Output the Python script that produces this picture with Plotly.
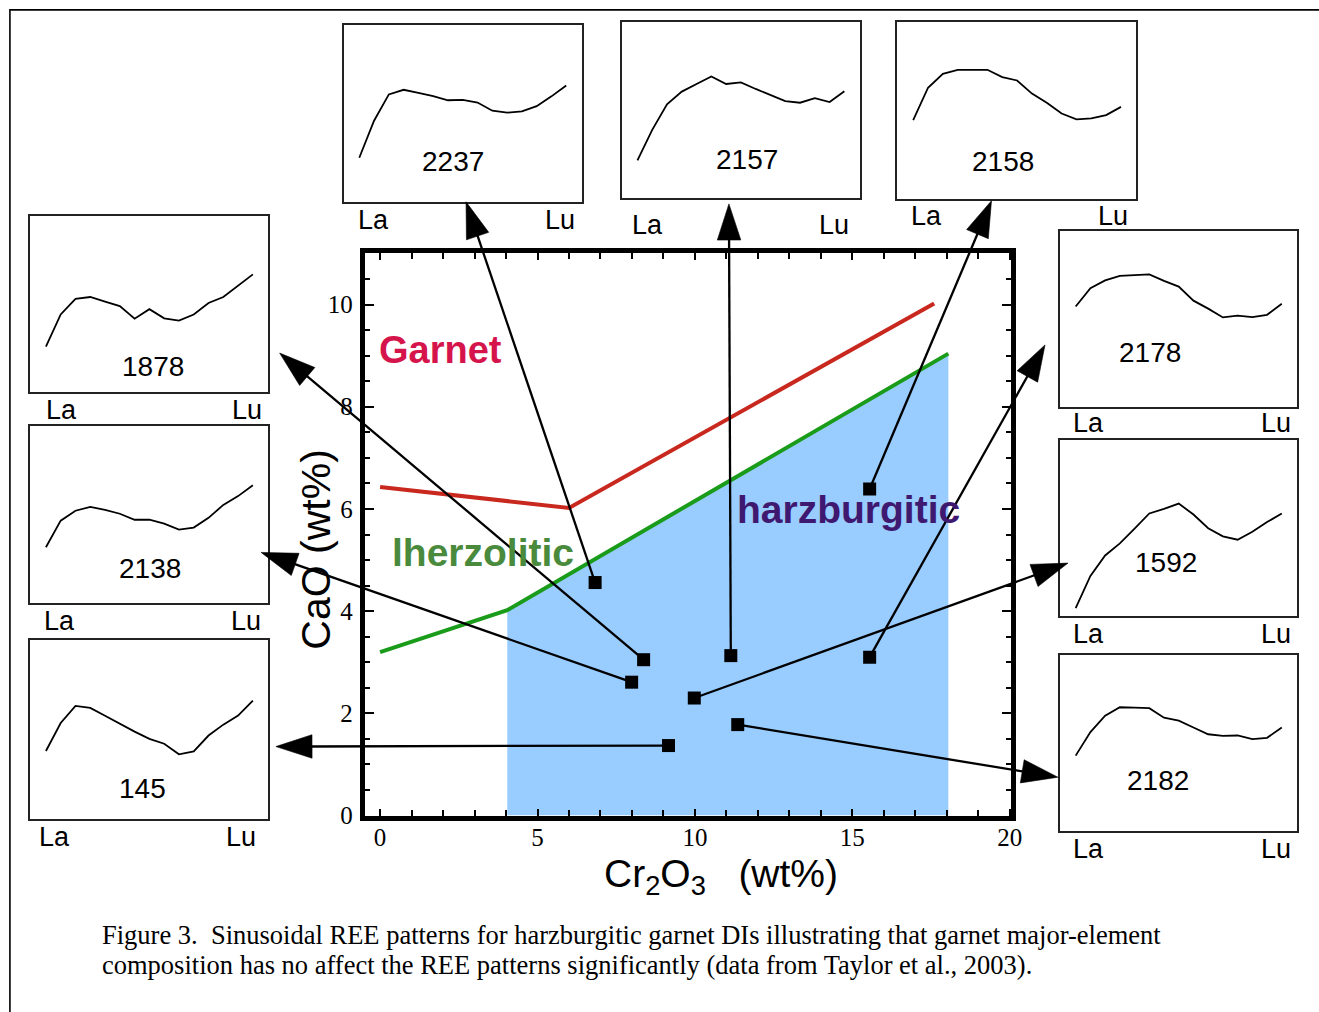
import plotly.graph_objects as go

W, H = 1319, 1012  # reference page size in pixels (positions below are page pixels)

# ---------------- data: main Cr2O3 vs CaO diagram ----------------
SAMPLES = ["2237", "1878", "2138", "2157", "1592", "145", "2182", "2158", "2178"]
CR2O3 = [6.83, 8.37, 7.99, 11.14, 9.98, 9.16, 11.36, 15.55, 15.55]
CAO = [4.56, 3.05, 2.61, 3.13, 2.30, 1.37, 1.78, 6.39, 3.10]

GARNET_LINE_X = [0.0, 6.0, 17.6]
GARNET_LINE_Y = [6.43, 6.02, 10.02]
LHERZ_LINE_X = [0.0, 4.04, 18.05]
LHERZ_LINE_Y = [3.20, 4.02, 9.04]
HARZ_FIELD_X = [4.04, 4.04, 18.05, 18.05]
HARZ_FIELD_Y = [0.0, 4.02, 9.04, 0.0]

X_TICKS = [0, 5, 10, 15, 20]
Y_TICKS = [0, 2, 4, 6, 8, 10]

# ---------------- data: REE patterns (relative chondrite-normalised level) ----
REE = ["La", "Ce", "Pr", "Nd", "Pm", "Sm", "Eu", "Gd", "Tb", "Dy", "Ho", "Er", "Tm", "Yb", "Lu"]
REE_1878 = [26.0, 44.2, 53.0, 54.1, 51.5, 48.9, 41.8, 47.2, 42.0, 40.7, 44.2, 50.7, 54.1, 60.4, 66.9]
REE_2138 = [31.3, 46.4, 52.0, 54.2, 52.5, 50.3, 46.9, 46.9, 44.7, 41.3, 42.5, 48.0, 55.3, 60.3, 66.5]
REE_145 = [37.8, 53.5, 63.1, 62.0, 57.6, 53.1, 48.7, 44.6, 41.9, 36.0, 37.6, 46.5, 52.6, 57.7, 66.1]
REE_2237 = [25.0, 45.9, 60.7, 63.3, 61.5, 59.8, 57.4, 57.6, 56.1, 51.5, 50.4, 51.1, 54.1, 59.6, 65.7]
REE_2157 = [21.4, 38.7, 53.2, 60.4, 64.7, 69.0, 64.7, 65.6, 61.9, 58.4, 55.0, 54.1, 56.7, 54.5, 60.6]
REE_2158 = [44.6, 62.8, 70.6, 72.9, 72.9, 72.9, 68.8, 66.9, 59.5, 54.3, 48.3, 45.0, 45.5, 47.4, 52.0]
REE_2178 = [57.1, 67.5, 71.9, 74.5, 74.9, 75.3, 71.6, 68.4, 60.4, 55.9, 50.9, 51.9, 51.1, 52.4, 58.6]
REE_1592 = [4.7, 22.9, 34.5, 41.3, 49.7, 58.3, 60.9, 63.9, 57.7, 49.9, 45.3, 43.4, 47.9, 53.4, 58.3]
REE_2182 = [42.9, 56.2, 65.5, 70.3, 70.1, 69.8, 64.4, 62.7, 58.8, 55.0, 54.1, 54.3, 52.2, 53.0, 58.8]

REE_PATTERNS = {
    "1878": REE_1878, "2138": REE_2138, "145": REE_145,
    "2237": REE_2237, "2157": REE_2157, "2158": REE_2158,
    "2178": REE_2178, "1592": REE_1592, "2182": REE_2182,
}

# ---------------- layout positions (page pixels) ----------------
INSET_BOX = {  # x0, y0, x1, y1
    "1878": (30.5, 219, 270.5, 398),
    "2138": (30.5, 432, 270.5, 611),
    "145": (30.5, 649, 270.5, 830),
    "2237": (346.5, 25, 586.5, 205),
    "2157": (627, 22, 867, 201),
    "2158": (905, 22, 1146, 202),
    "2178": (1069, 234, 1308, 413),
    "1592": (1069, 446, 1308, 625),
    "2182": (1069, 664, 1308, 843),
}
INSET_NUMBER_POS = {
    "1878": (154, 372), "2138": (151, 576), "145": (144, 800),
    "2237": (457, 164), "2157": (753, 162), "2158": (1011, 164),
    "2178": (1160, 357), "1592": (1176, 570), "2182": (1168, 791),
}
LA_LU_POS = {  # la_x, lu_x, y
    "1878": (62, 249, 415), "2138": (60, 248, 629), "145": (55, 243, 848),
    "2237": (377, 565, 222), "2157": (653, 841, 227), "2158": (934, 1122, 218),
    "2178": (1098, 1287, 428), "1592": (1098, 1287, 642), "2182": (1098, 1287, 860),
}
# arrow tips in diagram units (outside the axes box)
ARROW_TIP = {
    "2237": (2.73, 12.01), "2157": (11.08, 11.97), "2158": (19.42, 12.03),
    "1878": (-3.19, 9.05), "2138": (-3.78, 5.15), "145": (-3.31, 1.35),
    "2178": (21.12, 9.21), "1592": (21.85, 4.94), "2182": (21.53, 0.75),
}

SANS = "Liberation Sans, Arial, sans-serif"
SERIF = "Liberation Serif, Times New Roman, serif"


def px(x):
    return x / W


def py(y):
    return 1 - y / H


MAIN_X_RANGE = [-0.466, 20.04]
MAIN_Y_RANGE = [0.0, 11.0]
MAIN_X_DOMAIN = [px(368.5), px(1019.5)]
MAIN_Y_DOMAIN = [py(827), py(257)]

# full-page overlay axes sharing the diagram's scale (so arrows can leave the box)
_sx = (MAIN_X_RANGE[1] - MAIN_X_RANGE[0]) / (MAIN_X_DOMAIN[1] - MAIN_X_DOMAIN[0])
_sy = (MAIN_Y_RANGE[1] - MAIN_Y_RANGE[0]) / (MAIN_Y_DOMAIN[1] - MAIN_Y_DOMAIN[0])
FULL_X_RANGE = [MAIN_X_RANGE[0] - MAIN_X_DOMAIN[0] * _sx,
                MAIN_X_RANGE[1] + (1 - MAIN_X_DOMAIN[1]) * _sx]
FULL_Y_RANGE = [MAIN_Y_RANGE[0] - MAIN_Y_DOMAIN[0] * _sy,
                MAIN_Y_RANGE[1] + (1 - MAIN_Y_DOMAIN[1]) * _sy]

fig = go.Figure()

# harzburgitic field
fig.add_trace(go.Scatter(x=HARZ_FIELD_X, y=HARZ_FIELD_Y, fill="toself", mode="lines",
                         line=dict(width=0), fillcolor="#99ccff", hoverinfo="skip",
                         showlegend=False))
fig.add_trace(go.Scatter(x=GARNET_LINE_X, y=GARNET_LINE_Y, mode="lines",
                         line=dict(color="#c8281e", width=4), showlegend=False))
fig.add_trace(go.Scatter(x=LHERZ_LINE_X, y=LHERZ_LINE_Y, mode="lines",
                         line=dict(color="#1a9c1a", width=4), showlegend=False))
fig.add_trace(go.Scatter(x=CR2O3, y=CAO, mode="markers", text=SAMPLES,
                         marker=dict(symbol="square", size=13, color="black"),
                         showlegend=False))

# arrows from each garnet to its REE pattern box (overlay axes x11/y11)
for name, cx, cy in zip(SAMPLES, CR2O3, CAO):
    tx, ty = ARROW_TIP[name]
    fig.add_trace(go.Scatter(x=[cx, tx], y=[cy, ty], mode="lines+markers",
                             xaxis="x11", yaxis="y11",
                             line=dict(color="black", width=2.3),
                             marker=dict(symbol="arrow", angleref="previous",
                                         size=[0, 38], color="black", opacity=1,
                                         line=dict(width=0.6, color="black")),
                             showlegend=False, hoverinfo="skip"))

annotations = []

# main axes
fig.update_layout(
    xaxis=dict(domain=MAIN_X_DOMAIN, range=MAIN_X_RANGE, anchor="y",
               showline=True, linewidth=4.5, linecolor="black", mirror="ticks",
               ticks="inside", ticklen=7, tickwidth=1.8, tickcolor="black",
               tickvals=X_TICKS, ticktext=[str(v) for v in X_TICKS],
               minor=dict(dtick=1, tick0=0, ticks="inside", ticklen=6, tickwidth=1.8,
                          tickcolor="black", showgrid=False),
               tickfont=dict(family=SERIF, size=25, color="black"),
               showgrid=False, zeroline=False, ticklabelstandoff=-4),
    yaxis=dict(domain=MAIN_Y_DOMAIN, range=MAIN_Y_RANGE, anchor="x",
               showline=True, linewidth=4.5, linecolor="black", mirror="ticks",
               ticks="inside", ticklen=9, tickwidth=1.8, tickcolor="black",
               tickvals=Y_TICKS, ticktext=[str(v) for v in Y_TICKS],
               minor=dict(dtick=0.5, tick0=0, ticks="inside", ticklen=5, tickwidth=1.8,
                          tickcolor="black", showgrid=False),
               tickfont=dict(family=SERIF, size=25, color="black"),
               showgrid=False, zeroline=False, ticklabelstandoff=3),
    xaxis11=dict(domain=[0, 1], range=FULL_X_RANGE, anchor="y11", visible=False,
                 fixedrange=True),
    yaxis11=dict(domain=[0, 1], range=FULL_Y_RANGE, anchor="x11", visible=False,
                 fixedrange=True),
)

# insets
INSET_ORDER = ["1878", "2138", "145", "2237", "2157", "2158", "2178", "1592", "2182"]
for i, name in enumerate(INSET_ORDER):
    k = i + 2
    x0, y0, x1, y1 = INSET_BOX[name]
    fig.add_trace(go.Scatter(x=REE, y=REE_PATTERNS[name], xaxis=f"x{k}", yaxis=f"y{k}",
                             mode="lines", line=dict(color="black", width=1.8),
                             showlegend=False, name=name))
    common = dict(showline=True, mirror=True, linewidth=1.6, linecolor="#222",
                  showgrid=False, zeroline=False, showticklabels=False, ticks="")
    fig.layout[f"xaxis{k}"] = dict(domain=[px(x0), px(x1)], range=[-1.06, 15.04],
                                   anchor=f"y{k}", type="category", **common)
    fig.layout[f"yaxis{k}"] = dict(domain=[py(y1), py(y0)], range=[0, 100],
                                   anchor=f"x{k}", **common)
    nx, ny = INSET_NUMBER_POS[name]
    annotations.append(dict(x=px(nx), y=py(ny), xref="paper", yref="paper", text=name,
                            showarrow=False, xanchor="center", yanchor="middle",
                            font=dict(family=SANS, size=28, color="black")))
    lax, lux, ly = LA_LU_POS[name]
    for lab, lx in ((REE[0], lax), (REE[-1], lux)):
        annotations.append(dict(x=px(lx), y=py(ly + 1), xref="paper", yref="paper",
                                text=lab, showarrow=False, xanchor="center",
                                yanchor="middle",
                                font=dict(family=SANS, size=27, color="black")))

# field labels
annotations += [
    dict(x=1.91, y=9.11, xref="x", yref="y", text="<b>Garnet</b>", showarrow=False,
         font=dict(family=SANS, size=38, color="#d6144c")),
    dict(x=3.28, y=5.15, xref="x", yref="y", text="<b>lherzolitic</b>", showarrow=False,
         font=dict(family=SANS, size=39, color="#4a8a3c")),
    dict(x=14.89, y=5.98, xref="x", yref="y", text="<b>harzburgitic</b>", showarrow=False,
         font=dict(family=SANS, size=39, color="#3f1870")),
]

# axis titles
annotations += [
    dict(x=px(319), y=py(557), xref="paper", yref="paper", text="CaO (wt%)",
         textangle=-90, showarrow=False, xanchor="center", yanchor="middle",
         font=dict(family=SANS, size=41, color="black")),
    dict(x=px(727), y=py(889), xref="paper", yref="paper",
         text="Cr<sub>2</sub>O<sub>3</sub>\u00a0\u00a0\u00a0(wt%)",
         showarrow=False, xanchor="center", yanchor="middle",
         font=dict(family=SANS, size=39, color="black")),
]

# caption
CAPTION = [
    "Figure 3.\u00a0 Sinusoidal REE patterns for harzburgitic garnet DIs illustrating that garnet major-element",
    "composition has no affect the REE patterns significantly (data from Taylor et al., 2003).",
]
for line, yy in zip(CAPTION, (948, 979)):
    annotations.append(dict(x=px(101), y=py(yy), xref="paper", yref="paper", text=line,
                            showarrow=False, xanchor="left", yanchor="middle",
                            font=dict(family=SERIF, size=26.5, color="black")))

fig.update_layout(
    autosize=True,
    margin=dict(l=0, r=0, t=0, b=0, pad=0),
    paper_bgcolor="white", plot_bgcolor="rgba(0,0,0,0)",
    showlegend=False,
    annotations=annotations,
    shapes=[dict(type="rect", xref="paper", yref="paper", x0=px(10), x1=1.05,
                 y0=-0.05, y1=py(10), line=dict(color="black", width=1.6),
                 layer="above")],
)

fig.write_html("out.html",
               default_width="100vw", default_height="100vh",
               config={"displayModeBar": False, "responsive": True},
               post_script="document.body.style.margin='0';"
                           "document.body.style.overflow='hidden';")
